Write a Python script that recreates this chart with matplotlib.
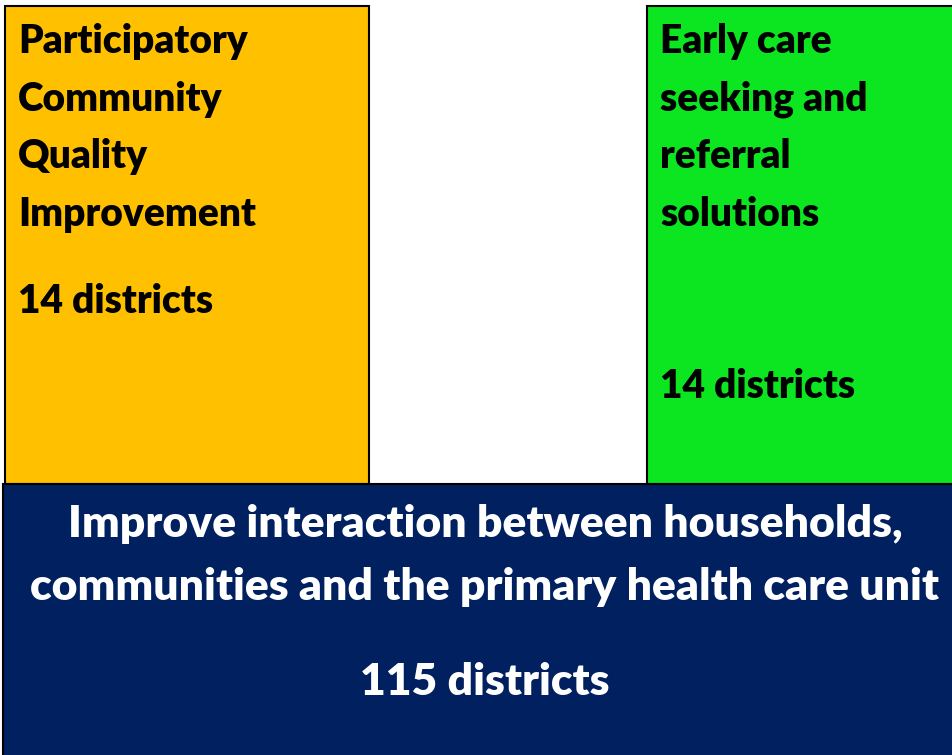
import matplotlib.pyplot as plt
from matplotlib.patches import Rectangle

# box contents
left_lines = ["Participatory", "Community", "Quality", "Improvement"]
right_lines = ["Early care", "seeking and", "referral", "solutions"]
bottom_lines = ["Improve interaction between households,",
                "communities and the primary health care unit"]
districts = [14, 14, 115]

W, H = 953, 755
fig = plt.figure(figsize=(W / 100, H / 100), dpi=100)
ax = fig.add_axes([0, 0, 1, 1])
ax.set_xlim(0, W)
ax.set_ylim(H, 0)
ax.axis("off")

top_font = dict(family="Lato", weight="heavy", fontsize=28)
bot_font = dict(family="Lato", weight="heavy", fontsize=32)

# boxes: (x, y, w, h, colour)
ax.add_patch(Rectangle((5, 6), 364, 478, facecolor="#FFC000", edgecolor="black", lw=1.5))
ax.add_patch(Rectangle((647, 6), 320, 478, facecolor="#0BE620", edgecolor="black", lw=1.5))
ax.add_patch(Rectangle((3, 484), 970, 290, facecolor="#002060", edgecolor="black", lw=1.5))

line_gap = 57.7
for i, s in enumerate(left_lines):
    ax.text(18, 53 + i * line_gap, s, va="baseline", ha="left", color="black", **top_font)
ax.text(18, 313, f"{districts[0]} districts", va="baseline", ha="left", color="black", **top_font)

for i, s in enumerate(right_lines):
    ax.text(660, 53 + i * line_gap, s, va="baseline", ha="left", color="black", **top_font)
ax.text(660, 398, f"{districts[1]} districts", va="baseline", ha="left", color="black", **top_font)

for i, s in enumerate(bottom_lines):
    ax.text(485, 537 + i * 63, s, va="baseline", ha="center", color="white", **bot_font)
ax.text(485, 695, f"{districts[2]} districts", va="baseline", ha="center", color="white", **bot_font)

fig.savefig("out.png", dpi=100)
